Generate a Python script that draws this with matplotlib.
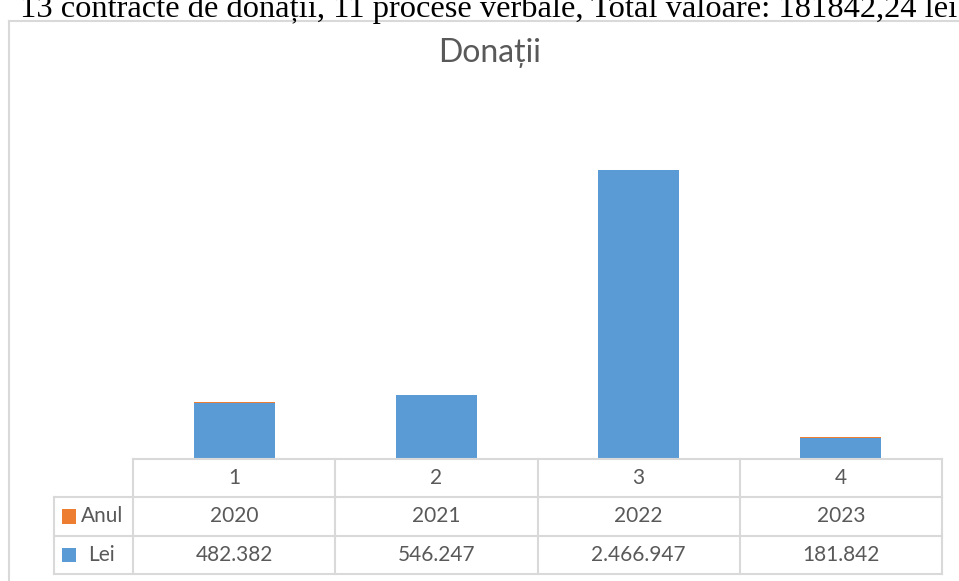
import matplotlib
matplotlib.use("Agg")
import matplotlib.pyplot as plt
from matplotlib.lines import Line2D
import matplotlib.patches as patches

# data
categories = [1, 2, 3, 4]
anul = [2020, 2021, 2022, 2023]
lei = [482382, 546247, 2466947, 181842]
lei_labels = ["482.382", "546.247", "2.466.947", "181.842"]
header_text = "13 contracte de donații, 11 procese verbale, Total valoare: 181842,24 lei"
title = "Donații"

W, H = 959, 581
c_blue = "#5B9BD5"
c_orange = "#ED7D31"
c_text = "#595959"
c_grid = "#D9D9D9"
font = ["Lato", "DejaVu Sans"]


def px(x, y):
    # pixel coords (from top-left) -> figure fraction
    return x / W, 1 - y / H


def main():
    fig = plt.figure(figsize=(W / 100, H / 100), dpi=100)

    # cut-off document text above the chart
    fig.text(*px(20, 17), header_text, family="Liberation Serif", fontsize=23.4,
             va="baseline", ha="left", color="black")

    # chart area border (only left and top edges visible)
    fig.add_artist(Line2D([9 / W, 9 / W], [0, 1 - 21 / H], color=c_grid, lw=1.5))
    fig.add_artist(Line2D([9 / W, 1], [1 - 21 / H, 1 - 21 / H], color=c_grid, lw=1.5))

    fig.text(*px(490, 62), title, ha="center", va="baseline", fontsize=23,
             color=c_text, family=font)

    # plot area
    left, right, top, bottom = 133, 942, 108, 459
    ax = fig.add_axes([left / W, 1 - bottom / H, (right - left) / W, (bottom - top) / H])
    ax.bar(categories, lei, width=0.4, color=c_blue, edgecolor="none")
    ax.bar(categories, anul, width=0.4, bottom=lei, color=c_orange, edgecolor="none")
    ax.set_xlim(0.5, 4.5)
    ax.set_ylim(0, 3000000)
    ax.axis("off")

    # data table under the plot
    tl, tb = 54, 574
    col_w = (right - left) / len(categories)
    tax = fig.add_axes([tl / W, 1 - tb / H, (right - tl) / W, (tb - bottom) / H])
    tax.set_xlim(0.5 - (left - tl) / col_w, 4.5)
    tax.set_ylim(3, 0)
    tax.axis("off")
    x0 = 0.5 - (left - tl) / col_w
    lk = dict(color=c_grid, lw=1.5, solid_capstyle="projecting", clip_on=False)
    tax.plot([0.5, 4.5], [0, 0], **lk)
    for r in (1, 2, 3):
        tax.plot([x0, 4.5], [r, r], **lk)
    tax.plot([x0, x0], [1, 3], **lk)
    for c in range(len(categories) + 1):
        tax.plot([0.5 + c, 0.5 + c], [0, 3], **lk)

    tk = dict(ha="center", va="center", fontsize=15, color=c_text, family=font)
    for i, cat in enumerate(categories):
        tax.text(cat, 0.5, str(cat), **tk)
        tax.text(cat, 1.5, str(anul[i]), **tk)
        tax.text(cat, 2.5, lei_labels[i], **tk)

    # legend keys in the row headers
    sq = 14 / col_w
    for row, (name, col, dx) in enumerate([("Anul", c_orange, 81), ("Lei", c_blue, 88)]):
        yc = 1.5 + row
        hs = 14 / 38.3 / 2
        tax.add_patch(patches.Rectangle((x0 + 8 / col_w, yc - hs), sq, 2 * hs,
                                        facecolor=col, edgecolor="none", clip_on=False))
        tax.text(x0 + (dx - tl) / col_w, yc, name, ha="left", va="center",
                 fontsize=15, color=c_text, family=font)

    fig.savefig("out.png", dpi=100)
    plt.close(fig)


if __name__ == "__main__":
    main()
